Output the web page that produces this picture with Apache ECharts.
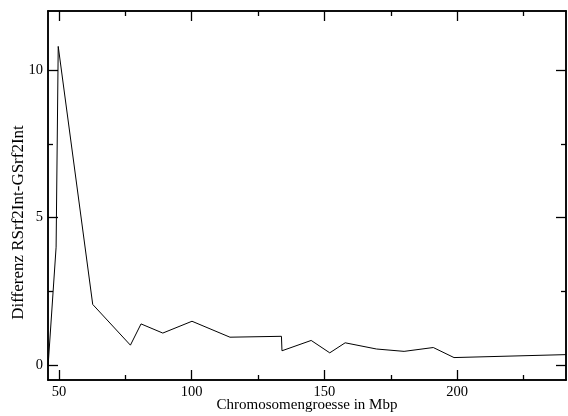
<!DOCTYPE html>
<html>
<head>
<meta charset="utf-8">
<script src="https://cdn.jsdelivr.net/npm/echarts@6/dist/echarts.min.js"></script>
<style>
html,body{margin:0;padding:0;background:#fff;}
#c{width:568px;height:416px;}
</style>
</head>
<body>
<div id="c"></div>
<script>
// Data (Chromosomengroesse in Mbp vs Differenz)
var xValues = [45.9, 48.9, 49.7, 62.7, 76.9, 80.9, 89.1, 100.1, 114.4, 133.8, 134.0, 145.0, 152.0, 157.8, 169.6, 180.0, 191.0, 198.8, 241.0];
var yValues = [0.0, 4.0, 10.8, 2.06, 0.68, 1.40, 1.09, 1.49, 0.95, 0.98, 0.49, 0.84, 0.42, 0.76, 0.55, 0.47, 0.60, 0.26, 0.36];
var xMajorTicks = [50, 100, 150, 200];
var xMinorTicks = [75, 125, 175, 225];
var yMajorTicks = [0, 5, 10];
var yMinorTicks = [2.5, 7.5];
var xTitle = 'Chromosomengroesse in Mbp';
var yTitle = 'Differenz RSrf2Int-GSrf2Int';

var X_MIN = 45.85, X_MAX = 241, Y_MIN = -0.5, Y_MAX = 12;
var FONT = 'Liberation Serif';
var lineStyle = {color: '#000', width: 1.5};

function xAx(pos, ticks, len, labels, name) {
  return {
    type: 'value', position: pos, min: X_MIN, max: X_MAX,
    name: name || '', nameLocation: 'middle', nameGap: 18, nameMoveOverlap: false,
    nameTextStyle: {fontFamily: FONT, fontSize: 15, color: '#000'},
    axisLine: {show: true, onZero: false, lineStyle: lineStyle},
    axisTick: {show: true, inside: true, length: len, customValues: ticks, lineStyle: {color: '#000', width: 1.3}},
    axisLabel: {show: labels, customValues: labels ? ticks : undefined, margin: 5, fontFamily: FONT, fontSize: 14.5, color: '#000'},
    splitLine: {show: false}
  };
}
function yAx(pos, ticks, len, labels, name) {
  return {
    type: 'value', position: pos, min: Y_MIN, max: Y_MAX,
    name: name || '', nameLocation: 'middle', nameGap: 21, nameMoveOverlap: false,
    nameTextStyle: {fontFamily: FONT, fontSize: 17, color: '#000', padding: [0, 54, 0, 0]},
    axisLine: {show: true, onZero: false, lineStyle: lineStyle},
    axisTick: {show: true, inside: true, length: len, customValues: ticks, lineStyle: {color: '#000', width: 1.3}},
    axisLabel: {show: labels, customValues: labels ? ticks : undefined, margin: 5, fontFamily: FONT, fontSize: 14.5, color: '#000'},
    splitLine: {show: false}
  };
}

var data = xValues.map(function (x, i) { return [x, yValues[i]]; });

var chart = echarts.init(document.getElementById('c'), null, {renderer: 'canvas'});
chart.setOption({
  animation: false,
  backgroundColor: '#fff',
  grid: {left: 48, right: 2, top: 11, bottom: 36, containLabel: false, outerBoundsMode: 'none'},
  xAxis: [
    xAx('bottom', xMajorTicks, 10, true, xTitle),
    xAx('bottom', xMinorTicks, 5, false),
    xAx('top', xMajorTicks, 10, false),
    xAx('top', xMinorTicks, 5, false)
  ],
  yAxis: [
    yAx('left', yMajorTicks, 10, true, yTitle),
    yAx('left', yMinorTicks, 5, false),
    yAx('right', yMajorTicks, 10, false),
    yAx('right', yMinorTicks, 5, false)
  ],
  series: [{
    type: 'line',
    xAxisIndex: 0, yAxisIndex: 0,
    data: data,
    showSymbol: false, symbol: 'none',
    lineStyle: {color: '#000', width: 1},
    clip: true
  }]
});
</script>
</body>
</html>
